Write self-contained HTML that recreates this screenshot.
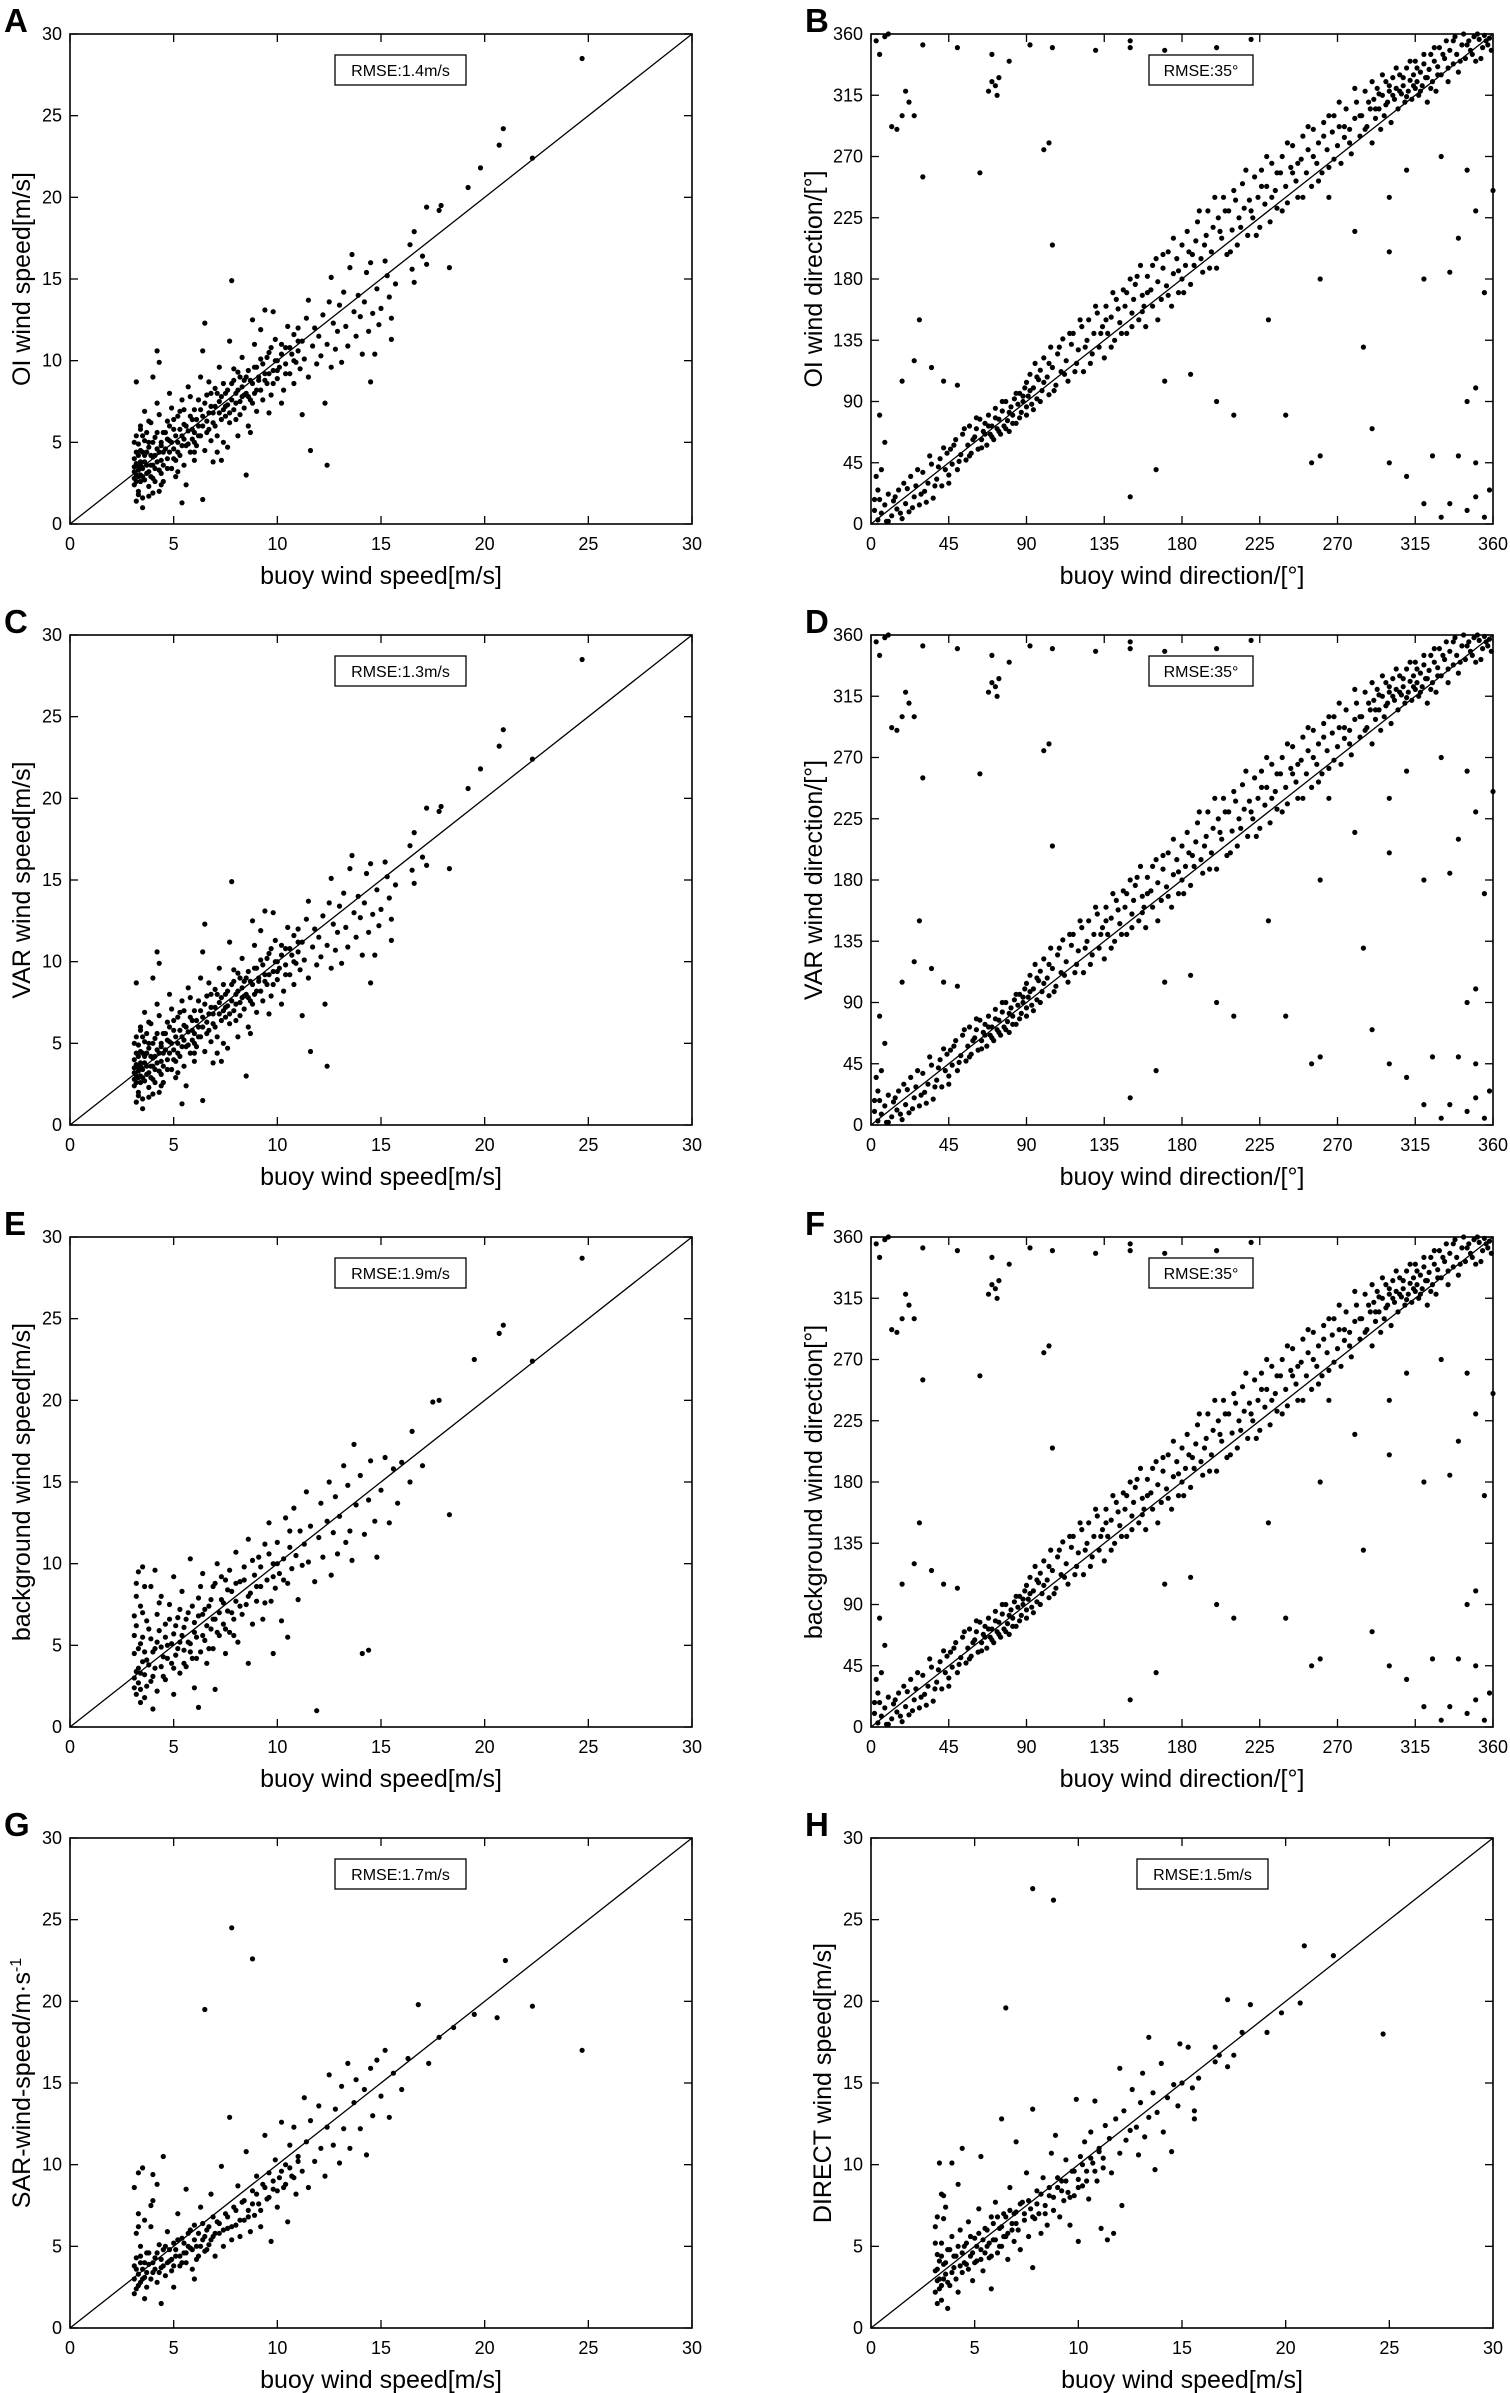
<!DOCTYPE html>
<html><head><meta charset="utf-8"><style>
html,body{margin:0;padding:0;background:#fff;}
svg{display:block;font-family:"Liberation Sans",Arial,sans-serif;}
</style></head><body>
<svg id="fig" width="1510" height="2393" viewBox="0 0 1510 2393" xmlns="http://www.w3.org/2000/svg"></svg>
<script>
const speedTicks = [0,5,10,15,20,25,30];
const dirTicks = [0,45,90,135,180,225,270,315,360];
const pointsA = "3.1,3.5 3.1,2.4 3.2,4.4 3.2,3.0 3.3,2.0 3.3,4.9 3.4,3.8 3.4,2.6 3.5,5.4 3.5,1.6 3.1,4.0 3.2,1.4 3.3,3.3 3.5,4.4 3.4,6.0 3.2,8.7 3.5,1.0 3.1,5.0 3.3,2.9 3.4,3.6 3.6,4.2 3.7,3.1 3.7,5.6 3.8,2.3 3.8,4.7 3.9,3.6 3.9,6.2 4.0,4.1 4.0,2.8 4.1,5.3 4.1,3.4 4.2,10.6 4.2,4.6 4.3,2.0 4.3,6.7 4.4,3.9 4.4,5.0 4.5,4.4 4.5,2.6 3.6,6.9 4.0,9.0 4.3,9.9 3.8,1.7 4.2,7.4 4.4,3.1 4.6,5.6 4.7,4.0 4.7,6.3 4.8,5.1 4.9,3.4 4.9,7.1 5.0,4.6 5.0,5.8 5.1,3.9 5.2,6.6 5.2,5.0 5.3,4.2 5.4,7.6 5.4,5.4 5.5,3.6 5.5,6.1 5.6,4.8 5.7,5.7 5.7,8.4 5.8,4.4 5.9,6.4 5.9,5.2 6.0,7.0 6.0,3.9 5.4,1.3 5.1,2.9 4.8,8.0 5.6,2.4 6.0,5.6 5.3,6.9 6.1,4.8 6.2,6.0 6.2,7.6 6.3,5.4 6.4,6.6 6.4,10.6 6.5,4.5 6.5,12.3 6.6,6.3 6.6,7.9 6.7,5.8 6.8,7.2 6.8,5.1 6.9,6.8 7.0,8.3 7.0,6.0 7.1,5.4 7.2,7.5 7.2,9.6 7.3,6.4 7.4,7.0 7.4,5.0 7.5,8.0 6.4,1.5 6.9,3.8 7.3,3.9 7.5,6.6 6.3,9.0 7.1,4.4 6.7,8.7 7.6,7.3 7.7,6.2 7.7,11.2 7.8,14.9 7.8,8.6 7.9,7.0 8.0,6.4 8.0,8.0 8.1,9.3 8.2,7.5 8.2,6.7 8.3,8.4 8.4,7.1 8.5,3.0 8.5,9.0 8.6,7.8 8.6,6.0 8.7,8.8 8.8,12.5 8.8,7.4 8.9,9.6 9.0,8.2 9.0,6.9 8.1,5.4 8.3,10.2 7.9,9.5 8.7,5.6 8.9,11.0 7.6,4.7 8.4,7.9 9.1,8.8 9.2,10.1 9.3,7.6 9.4,9.2 9.4,13.1 9.5,8.6 9.6,10.5 9.7,7.9 9.8,9.4 9.8,13.0 9.9,11.3 10.0,8.9 10.0,10.0 10.1,9.6 10.2,11.0 10.3,8.2 10.4,9.8 10.4,10.8 10.5,12.1 10.6,9.2 10.7,10.4 10.8,8.6 10.8,11.6 10.9,9.9 11.0,10.6 11.0,12.0 9.6,6.8 10.2,7.4 11.2,6.7 9.2,11.9 11.1,9.5 11.2,11.2 11.3,10.1 11.4,12.6 11.5,9.0 11.5,13.7 11.6,4.5 11.7,10.9 11.8,12.0 11.9,9.8 12.0,11.5 12.1,10.3 12.2,12.8 12.3,7.4 12.4,3.6 12.4,11.0 12.5,13.6 12.6,15.1 12.6,9.6 12.7,12.3 12.8,10.7 12.9,11.8 13.0,13.4 13.1,9.9 13.2,14.2 13.3,12.1 13.4,10.9 13.5,15.7 13.6,16.5 13.7,13.0 13.8,11.5 13.9,14.0 14.0,12.7 14.1,10.4 14.2,13.6 14.3,15.4 14.4,11.8 14.5,8.7 14.5,16.0 14.6,12.9 14.7,10.4 14.8,14.4 14.9,12.2 15.0,13.2 15.2,16.1 15.4,13.9 15.5,11.3 15.5,12.6 15.7,14.7 15.3,15.2 16.4,17.1 16.5,15.6 16.6,17.9 16.6,14.8 17.0,16.4 17.2,19.4 17.2,15.9 17.8,19.2 17.9,19.5 18.3,15.7 19.2,20.6 19.8,21.8 20.7,23.2 20.9,24.2 22.3,22.4 24.7,28.5";
const coreA = "3.1,3.2 3.1,2.8 3.2,3.7 3.2,2.6 3.3,4.2 3.3,3.5 3.4,3.0 3.4,4.5 3.5,2.9 3.5,3.4 3.6,3.8 3.6,2.7 3.7,4.4 3.7,3.6 3.8,5.0 3.8,3.2 3.9,4.2 3.9,2.9 4.0,3.6 4.0,5.0 4.1,4.2 4.1,2.6 4.2,3.8 4.2,5.6 4.3,4.4 4.3,3.3 4.4,4.8 4.5,5.6 4.5,3.6 4.6,4.6 4.7,5.2 4.7,3.4 4.8,4.4 4.8,6.0 4.9,5.0 5.0,4.0 5.0,6.4 5.1,5.4 5.2,4.4 5.3,5.8 5.4,4.8 5.5,5.2 5.5,7.0 5.6,6.0 5.7,4.9 5.8,6.6 5.9,5.8 6.0,5.0 6.1,6.4 6.2,5.4 6.3,7.0 6.4,6.0 6.5,7.4 6.6,5.6 6.7,6.8 6.8,8.0 6.9,6.2 7.0,7.2 7.1,8.0 7.2,6.8 7.3,7.8 7.4,8.6 7.5,7.2 7.6,8.2 7.7,6.8 7.8,7.6 7.9,8.8 8.0,7.4 8.1,8.2 8.2,9.0 8.3,7.8 8.4,8.8 8.5,8.0 8.6,9.4 8.7,7.6 8.8,8.6 8.9,8.0 9.0,9.6 9.1,9.0 9.2,8.2 9.3,9.8 9.4,8.8 9.5,10.2 9.6,9.2 9.7,10.8 9.8,8.6 9.9,10.0 10.0,9.4 10.2,10.4 10.4,9.2 10.6,10.8 10.8,10.0 11.0,11.2 3.2,5.4 3.3,1.8 3.4,5.8 3.6,5.1 3.8,6.3 4.0,1.9 4.4,2.4 5.2,3.2 6.0,4.4 5.8,7.8";
const pointsC = pointsA + " " + coreA;
const pointsE = "3.1,3.0 3.1,4.5 3.2,2.0 3.2,6.2 3.3,3.6 3.3,9.5 3.4,5.1 3.4,1.5 3.5,4.0 3.5,7.0 3.2,8.0 3.1,5.6 3.3,2.7 3.4,3.3 3.5,9.8 3.6,4.6 3.7,2.5 3.7,6.5 3.8,3.8 3.9,5.4 3.9,8.6 4.0,3.1 4.1,4.8 4.2,6.9 4.2,2.2 4.3,5.9 4.4,3.7 4.4,8.0 4.5,4.3 4.6,6.3 4.6,2.9 4.7,5.0 4.8,7.5 4.9,3.9 5.0,5.7 5.0,9.2 5.1,4.4 5.2,6.7 5.3,3.3 5.3,5.2 5.4,8.3 5.5,4.7 5.5,6.1 5.6,3.7 5.7,7.0 5.8,5.1 5.8,10.3 5.9,4.2 6.0,6.4 6.0,2.4 6.1,5.5 6.2,7.9 6.3,4.6 6.4,6.9 6.4,9.4 6.5,5.3 6.6,3.9 6.7,7.4 6.8,6.0 6.9,8.6 6.9,4.8 7.0,6.6 7.1,10.0 7.2,5.6 7.3,7.8 7.4,6.3 7.5,4.5 7.5,9.0 7.6,7.1 7.7,5.8 7.8,8.3 7.9,6.6 8.0,10.7 8.0,7.7 8.1,5.2 8.2,8.9 8.3,6.9 8.4,9.8 8.5,7.5 8.6,3.9 8.6,11.5 8.7,8.2 8.8,6.3 8.9,9.3 9.0,7.7 9.1,10.4 9.2,8.6 9.3,6.6 9.4,11.2 9.5,9.0 9.6,12.5 9.7,7.7 9.8,10.0 9.9,8.5 10.0,11.3 10.1,9.4 10.2,6.5 10.3,10.3 10.4,12.8 10.5,8.8 10.6,11.0 10.7,9.7 10.8,13.4 10.9,10.5 11.0,7.8 11.1,12.0 11.2,9.9 11.3,11.2 11.4,14.4 11.5,10.1 11.6,12.3 11.8,8.9 11.9,1.0 12.0,11.6 12.1,13.7 12.2,10.4 12.4,12.6 12.5,15.0 12.6,9.3 12.7,11.9 12.8,14.1 12.9,10.6 13.0,12.9 13.2,16.0 13.3,11.3 13.4,14.8 13.5,12.0 13.6,10.2 13.7,17.3 13.8,13.6 14.0,15.4 14.1,4.5 14.2,11.8 14.4,4.7 14.4,13.9 14.5,16.3 14.7,12.6 14.8,10.4 15.0,14.5 15.2,16.5 15.4,12.5 15.6,15.8 15.8,13.7 16.0,16.2 16.4,15.0 16.5,18.1 17.0,16.0 17.5,19.9 17.8,20.0 18.3,13.0 19.5,22.5 20.7,24.1 20.9,24.6 22.3,22.4 24.7,28.7 6.2,1.2 7.0,2.3 9.8,4.5 10.5,5.5 4.0,1.1 5.0,2.0 3.6,8.6 4.1,9.6";
const coreE = "3.2,3.4 3.3,4.8 3.4,2.3 3.5,5.5 3.6,3.2 3.7,4.1 3.8,6.0 3.9,2.8 4.0,4.6 4.1,3.6 4.2,5.2 4.3,7.6 4.4,4.9 4.5,3.1 4.6,5.5 4.7,4.2 4.8,6.6 4.9,5.1 5.0,3.6 5.1,6.2 5.2,4.8 5.3,7.2 5.4,5.6 5.5,3.9 5.6,6.6 5.7,5.2 5.8,4.6 5.9,7.4 6.0,5.8 6.1,4.2 6.2,6.8 6.3,8.6 6.4,5.6 6.5,7.2 6.6,6.2 6.7,4.8 6.8,7.8 6.9,6.6 7.0,8.8 7.1,5.8 7.2,7.0 7.3,9.2 7.4,7.6 7.5,6.0 7.6,8.4 7.7,9.6 7.8,7.0 7.9,5.6 8.0,8.8 8.2,7.4 8.4,9.0 8.6,8.0 8.8,10.2 9.0,8.6 9.2,9.8 9.4,7.6 9.6,10.6 9.8,9.2 10.0,10.0 10.3,9.0 10.6,12.0 3.1,6.8 3.2,8.8 3.4,7.4 3.1,2.4 3.6,1.8";
const pointsG = "3.1,3.0 3.1,3.8 3.2,2.4 3.2,4.3 3.3,3.3 3.3,9.5 3.4,2.8 3.4,5.0 3.5,3.6 3.5,9.8 3.1,2.1 3.2,5.8 3.3,7.0 3.4,4.0 3.6,3.1 3.7,4.6 3.7,2.5 3.8,3.9 3.9,6.2 4.0,3.4 4.0,9.4 4.1,4.3 4.2,2.8 4.3,5.1 4.4,3.7 4.5,10.5 4.5,4.8 4.6,3.2 4.7,5.9 4.8,4.1 4.9,3.5 5.0,5.2 5.1,4.4 5.2,7.0 5.3,3.8 5.4,5.5 5.5,4.6 5.6,8.5 5.6,4.0 5.7,5.8 5.8,4.9 5.9,3.6 6.0,6.3 6.1,5.0 6.2,4.4 6.3,7.4 6.4,5.4 6.5,19.5 6.5,4.7 6.6,6.0 6.7,5.1 6.8,8.2 6.9,5.6 7.0,4.4 7.1,6.5 7.2,5.8 7.3,9.9 7.4,5.0 7.5,7.0 7.6,6.1 7.7,12.9 7.8,24.5 7.8,5.4 7.9,7.4 8.0,6.3 8.1,8.7 8.2,5.6 8.3,7.7 8.4,6.6 8.5,10.8 8.6,7.2 8.7,5.9 8.8,22.6 8.8,8.4 8.9,6.9 9.0,9.3 9.1,7.6 9.2,6.2 9.3,8.8 9.4,11.8 9.5,7.9 9.6,9.5 9.7,5.3 9.8,8.5 9.9,10.3 10.0,7.4 10.1,9.2 10.2,12.6 10.3,8.6 10.4,10.0 10.5,6.5 10.6,11.2 10.7,9.3 10.8,12.3 10.9,8.2 11.0,10.5 11.2,9.6 11.3,14.1 11.4,11.4 11.5,8.6 11.6,12.7 11.8,10.2 12.0,13.6 12.1,11.0 12.3,9.3 12.4,12.3 12.5,15.5 12.7,11.2 12.8,13.4 13.0,10.1 13.1,14.8 13.2,12.2 13.4,16.2 13.5,11.0 13.7,13.8 13.8,15.2 14.0,12.2 14.2,14.6 14.3,10.6 14.5,15.9 14.6,13.0 14.8,16.4 15.0,14.2 15.2,17.0 15.4,12.9 15.6,15.6 16.0,14.6 16.3,16.5 16.8,19.8 17.3,16.2 17.8,17.8 18.5,18.4 19.5,19.2 20.6,19.0 21.0,22.5 22.3,19.7 24.7,17.0 3.6,1.8 4.4,1.5 5.0,2.5 6.0,3.0 4.2,8.8 3.9,7.5";
const coreG = "3.2,3.6 3.3,2.6 3.4,4.4 3.5,3.0 3.6,4.0 3.7,3.4 3.8,4.6 3.9,3.0 4.0,4.0 4.1,3.6 4.2,4.6 4.3,3.4 4.4,4.2 4.5,3.8 4.6,5.0 4.7,4.0 4.8,4.8 4.9,4.2 5.0,3.8 5.1,4.8 5.2,5.4 5.3,4.4 5.4,4.0 5.5,5.2 5.6,4.6 5.7,5.0 5.8,6.0 5.9,4.8 6.0,5.4 6.1,4.2 6.2,5.8 6.3,5.0 6.4,6.4 6.5,5.6 6.6,4.8 6.7,6.2 6.8,5.4 6.9,6.8 7.0,5.8 7.2,6.4 7.4,6.0 7.6,6.8 7.8,6.2 8.0,7.2 8.2,6.6 8.4,7.8 8.6,6.8 8.8,7.6 9.0,8.2 9.2,7.2 9.4,8.6 9.6,8.0 9.8,9.0 10.0,8.4 10.2,9.6 10.4,8.8 10.6,9.8 10.8,9.2 11.0,10.2 3.1,8.6 3.3,6.2 3.6,6.6 4.0,7.8";
const pointsH = "3.1,3.5 3.1,2.2 3.2,4.5 3.2,1.5 3.3,3.0 3.3,10.1 3.4,5.2 3.4,2.6 3.5,3.9 3.5,8.1 3.1,6.2 3.2,2.9 3.3,4.1 3.4,1.7 3.5,6.7 3.6,3.3 3.7,4.8 3.7,1.2 3.8,2.6 3.9,5.6 3.9,10.1 4.0,3.7 4.1,4.4 4.2,2.2 4.2,8.8 4.3,6.0 4.4,3.4 4.4,11.0 4.5,5.0 4.6,3.9 4.7,6.5 4.8,4.4 4.9,2.9 5.0,5.5 5.1,4.1 5.2,7.3 5.3,4.8 5.3,10.5 5.4,3.5 5.5,6.1 5.6,5.0 5.7,4.3 5.8,6.8 5.8,2.4 5.9,5.4 6.0,7.7 6.1,4.6 6.2,6.1 6.3,12.8 6.3,5.0 6.4,7.0 6.5,19.6 6.5,5.6 6.6,4.2 6.7,8.6 6.8,6.4 6.9,5.3 7.0,11.4 7.0,7.1 7.1,6.0 7.2,4.8 7.3,7.7 7.4,6.6 7.5,9.5 7.6,5.6 7.7,7.3 7.8,26.9 7.8,13.4 7.8,3.7 7.9,6.7 8.0,8.4 8.1,7.0 8.2,5.8 8.3,9.2 8.4,7.5 8.5,6.3 8.6,8.1 8.7,10.7 8.8,26.2 8.8,7.2 8.9,11.8 9.0,8.6 9.1,6.8 9.2,9.0 9.3,7.8 9.4,10.3 9.5,8.3 9.6,6.3 9.7,9.6 9.8,8.1 9.9,14.0 10.0,9.1 10.0,5.3 10.1,10.5 10.2,8.7 10.3,11.4 10.4,9.6 10.5,7.9 10.6,12.0 10.7,10.1 10.8,13.9 10.9,9.0 11.0,11.0 11.1,6.1 11.2,10.4 11.3,12.4 11.4,5.4 11.5,11.6 11.6,9.5 11.7,5.8 11.8,12.8 12.0,15.9 12.0,10.7 12.1,7.5 12.2,13.3 12.3,11.5 12.5,12.1 12.6,14.6 12.8,12.3 12.9,10.6 13.0,13.8 13.1,15.6 13.2,11.7 13.4,17.8 13.4,12.9 13.6,14.4 13.7,9.7 13.8,13.2 14.0,16.2 14.1,12.0 14.3,14.1 14.5,10.8 14.6,14.9 14.8,13.6 14.9,17.4 15.0,15.0 15.3,17.2 15.5,14.7 15.6,12.8 15.6,13.3 15.8,15.3 16.6,17.2 16.6,16.3 16.8,16.7 17.2,16.0 17.2,20.1 17.5,16.7 17.9,18.1 18.3,19.8 19.1,18.1 19.8,19.3 20.7,19.9 20.9,23.4 22.3,22.8 24.7,18.0";
const coreH = "3.2,3.6 3.3,2.4 3.4,4.4 3.5,3.0 3.6,4.0 3.7,2.8 3.8,4.8 3.9,3.4 4.0,4.4 4.1,3.0 4.2,5.0 4.3,3.8 4.4,4.6 4.5,4.0 4.6,5.2 4.7,3.6 4.8,5.6 4.9,4.6 5.0,4.0 5.1,5.0 5.2,5.8 5.3,4.2 5.4,5.4 5.5,4.6 5.6,6.0 5.7,5.2 5.8,4.4 5.9,6.4 6.0,5.4 6.1,6.8 6.2,5.0 6.3,6.2 6.4,5.6 6.5,6.8 6.6,5.8 6.7,7.2 6.8,6.0 6.9,7.0 7.0,6.4 7.2,7.6 7.4,7.0 7.6,7.8 7.8,6.8 8.0,7.6 8.2,8.2 8.4,7.0 8.6,8.6 8.8,8.0 9.0,9.2 9.2,8.4 9.4,9.0 9.6,8.0 9.8,9.6 10.0,8.6 10.2,10.0 10.4,9.0 10.6,10.4 10.8,9.6 11.0,10.8 11.2,9.8 3.1,5.2 3.2,6.8 3.4,8.2 3.6,7.4";
const pointsB = "2,10 4,3 5,18 6,8 8,14 9,2 10,22 12,6 13,17 15,11 16,25 18,4 19,30 20,15 22,9 23,35 25,20 26,28 28,14 30,38 31,24 33,30 35,44 36,19 38,33 40,48 41,28 43,40 44,52 45,36 46,55 47,44 49,62 50,40 52,51 53,66 55,47 56,58 57,72 58,52 60,64 61,70 62,55 63,77 64,62 65,68 66,74 67,58 68,80 69,66 70,72 71,62 72,85 73,70 74,77 75,66 76,83 77,72 78,90 79,76 80,68 81,86 82,80 83,92 84,74 85,88 86,96 87,82 88,90 89,100 90,86 90,104 91,94 92,110 93,88 94,100 95,118 96,92 97,106 98,113 99,98 100,122 102,108 103,95 104,130 105,115 107,102 108,125 110,112 111,136 113,120 114,105 116,132 117,140 119,118 120,128 122,145 123,112 125,135 126,150 128,125 129,140 131,155 132,130 134,145 135,122 136,160 137,140 139,152 140,170 141,135 143,158 144,148 146,172 147,160 148,140 150,180 151,155 152,165 153,176 155,150 156,190 157,168 158,160 159,145 160,182 162,172 163,160 165,195 166,178 168,165 169,188 171,175 172,200 174,160 175,184 177,195 178,170 180,205 180,180 182,190 183,215 185,176 186,198 188,208 189,222 191,195 192,185 194,212 195,230 197,200 198,218 200,188 201,225 203,210 204,240 206,198 207,230 209,216 210,245 212,205 213,225 215,250 216,232 218,212 219,238 221,225 222,255 224,240 225,218 226,260 228,235 229,248 231,222 232,265 234,245 235,232 237,258 238,270 240,248 241,236 243,262 244,278 246,252 247,240 249,268 250,285 252,258 253,275 255,248 256,290 258,265 259,280 261,258 262,295 264,275 265,262 267,288 268,300 270,278 271,292 272,265 274,284 275,305 277,290 278,272 280,298 281,310 283,285 284,300 286,318 287,292 289,305 290,280 291,312 292,298 293,320 294,305 295,290 296,315 297,300 298,325 299,310 300,318 301,295 302,328 303,312 304,320 305,305 306,330 307,316 308,322 309,310 310,335 311,318 312,326 313,312 314,330 315,320 315,340 316,325 317,315 318,332 319,322 320,338 321,328 322,310 323,334 324,345 325,325 326,340 327,318 328,336 329,350 330,330 332,342 333,355 334,325 335,348 337,338 338,358 339,345 340,332 342,352 343,360 344,342 346,355 347,348 349,358 350,340 352,356 354,350 355,359 357,352 358,357 359,348 3,355 5,345 8,358 10,360 12,292 15,290 18,300 20,318 22,310 25,300 28,150 35,115 42,105 50,102 30,352 50,350 70,345 80,340 92,352 105,350 130,348 150,355 170,348 200,350 220,356 68,318 70,325 72,322 74,328 73,315 100,275 103,280 105,205 150,350 63,258 30,255 330,5 335,15 345,10 350,20 355,5 358,25 340,50 350,45 325,50 320,15 300,45 310,35 290,70 285,130 335,185 340,210 350,230 345,260 330,270 355,170 360,245 255,45 260,50 240,80 210,80 200,90 185,110 170,105 230,150 260,180 300,200 320,180 165,40 150,20 25,120 18,105 5,80 8,60 350,100 345,90 280,215 310,260 300,240 265,240";
const coreB = "10,2 14,20 17,8 21,26 24,12 27,40 29,22 32,16 34,50 37,28 39,42 42,56 45,30 48,58 51,46 54,70 57,50 59,62 61,78 64,56 66,66 68,72 70,64 72,78 74,68 76,90 78,70 80,82 82,74 84,96 86,78 88,94 90,80 92,98 94,84 96,108 98,90 100,104 103,118 106,98 109,130 112,110 115,140 118,112 121,150 124,130 127,118 130,160 133,140 136,150 139,130 142,165 145,140 148,170 151,145 154,182 157,156 160,170 163,190 166,150 169,198 172,168 175,210 178,186 181,170 184,200 187,190 190,230 193,205 196,188 199,240 202,215 205,230 208,200 211,238 214,218 217,260 220,230 223,212 226,248 229,270 232,240 235,258 238,230 241,280 244,258 247,265 250,240 253,292 256,270 259,252 262,285 265,300 268,268 271,310 274,292 277,280 280,320 283,300 286,290 288,310 290,325 292,305 294,316 296,330 298,308 300,322 302,315 304,335 306,318 308,328 310,314 312,340 314,322 316,335 318,318 320,345 322,328 324,320 326,350 328,330 331,345 334,335 337,355 341,340 345,352 348,345 351,360 353,342 356,355 3,35 6,40 4,25 2,18";
const pointsD = pointsB + " " + coreB;
const pointsF = pointsB + " " + coreB;

const panels = [
 {id:'a',letter:'A',col:0,row:0,type:'speed',pts:pointsA+" "+coreA,ylabel:'OI wind speed[m/s]',rmse:'RMSE:1.4m/s'},
 {id:'b',letter:'B',col:1,row:0,type:'dir',pts:pointsB+" "+coreB,ylabel:'OI wind direction/[°]',rmse:'RMSE:35°'},
 {id:'c',letter:'C',col:0,row:1,type:'speed',pts:pointsC,ylabel:'VAR wind speed[m/s]',rmse:'RMSE:1.3m/s'},
 {id:'d',letter:'D',col:1,row:1,type:'dir',pts:pointsD,ylabel:'VAR wind direction/[°]',rmse:'RMSE:35°'},
 {id:'e',letter:'E',col:0,row:2,type:'speed',pts:pointsE+" "+coreE,ylabel:'background wind speed[m/s]',rmse:'RMSE:1.9m/s'},
 {id:'f',letter:'F',col:1,row:2,type:'dir',pts:pointsF,ylabel:'background wind direction[°]',rmse:'RMSE:35°'},
 {id:'g',letter:'G',col:0,row:3,type:'speed',pts:pointsG+" "+coreG,ylabel:'SAR',rmse:'RMSE:1.7m/s'},
 {id:'h',letter:'H',col:1,row:3,type:'speed',pts:pointsH+" "+coreH,ylabel:'DIRECT wind speed[m/s]',rmse:'RMSE:1.5m/s'}
];
const colX=[70,871], rowY=[34,635,1237,1838], W=622, H=490;
const NS='http://www.w3.org/2000/svg';
const svg=document.getElementById('fig');
function mk(tag,attrs,parent,txt){const e=document.createElementNS(NS,tag);for(const k in attrs)e.setAttribute(k,attrs[k]);if(txt!==undefined)e.textContent=txt;parent.appendChild(e);return e;}

panels.forEach(p=>{
  const x0=colX[p.col], y0=rowY[p.row];
  const max=p.type==='speed'?30:360;
  const ticks=p.type==='speed'?speedTicks:dirTicks;
  const sx=v=>x0+v/max*W, sy=v=>y0+H-v/max*H;
  const g=mk('g',{},svg);
  
  
  const lt=mk('text',{x:x0-66,y:y0-2,'font-size':33,'font-weight':'bold'},g,p.letter);
  
  
  const pg=mk('g',{fill:'#000'},g);
  
  
  p.pts.trim().split(/\s+/).forEach(s=>{const [a,b]=s.split(',').map(Number);
    const c=mk('circle',{cx:sx(a).toFixed(1),cy:sy(b).toFixed(1),r:2.6},pg);
    
    
  });
  const dl=mk('line',{x1:sx(0),y1:sy(0),x2:sx(max),y2:sy(max),stroke:'#000','stroke-width':1.3},g);
  
  
  const fr=mk('rect',{x:x0,y:y0,width:W,height:H,fill:'none',stroke:'#000','stroke-width':1.6},g);
  
  
  ticks.forEach(t=>{
    const X=sx(t),Y=sy(t);
    mk('line',{x1:X,y1:y0+H,x2:X,y2:y0+H-8,stroke:'#000','stroke-width':1.3},g);
    mk('line',{x1:X,y1:y0,x2:X,y2:y0+8,stroke:'#000','stroke-width':1.3},g);
    mk('line',{x1:x0,y1:Y,x2:x0+8,y2:Y,stroke:'#000','stroke-width':1.3},g);
    mk('line',{x1:x0+W,y1:Y,x2:x0+W-8,y2:Y,stroke:'#000','stroke-width':1.3},g);
    const xt=mk('text',{x:X,y:y0+H+26,'font-size':18,'text-anchor':'middle'},g,String(t));
    
    
    const yt=mk('text',{x:x0-8,y:Y+6,'font-size':18,'text-anchor':'end'},g,String(t));
    
    
  });
  const xl=mk('text',{x:x0+W/2,y:y0+H+60,'font-size':25,'text-anchor':'middle'},g,p.type==='speed'?'buoy wind speed[m/s]':'buoy wind direction/[°]');
  
  
  const yx=p.type==='speed'?x0-40:x0-49;
  const yl=mk('text',{x:0,y:0,'font-size':25,'text-anchor':'middle',transform:`translate(${yx},${y0+H/2}) rotate(-90)`},g);
  
  
  if(p.id==='g'){ yl.textContent='SAR-wind-speed/m·s'; mk('tspan',{'font-size':16,dy:-9},yl,'-1'); }
  else yl.textContent=p.ylabel;
  const bx=p.col===0?x0+265:(p.id==='h'?x0+266:x0+278);
  const bw=p.col===0?131:(p.id==='h'?131:104);
  const rb=mk('rect',{x:bx,y:y0+21,width:bw,height:30,fill:'#fff',stroke:'#000','stroke-width':1.3},g);
  
  
  const rt=mk('text',{x:bx+bw/2,y:y0+42,'font-size':16,'text-anchor':'middle'},g,p.rmse);
  
  
});
</script>
</body></html>
